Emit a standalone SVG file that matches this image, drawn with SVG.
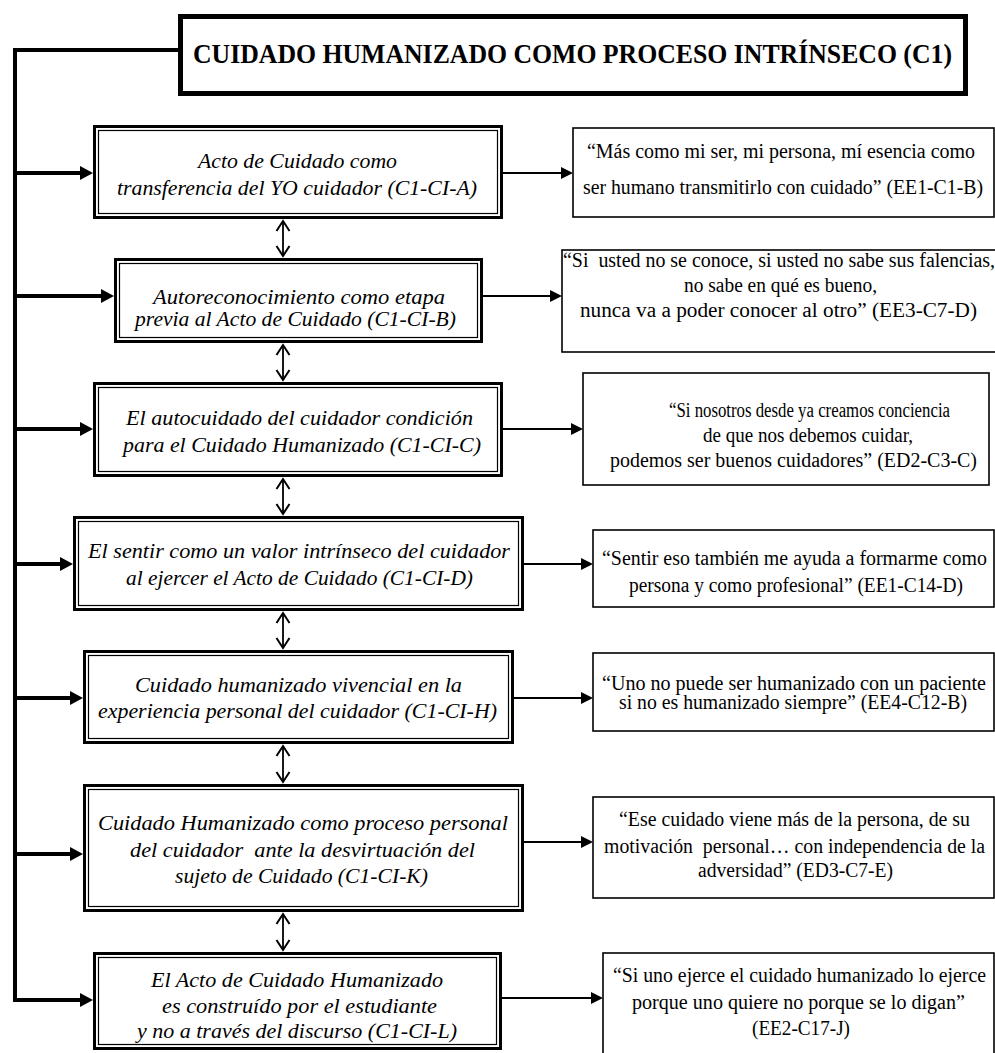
<svg xmlns="http://www.w3.org/2000/svg" width="995" height="1053" viewBox="0 0 995 1053">
<style>
.bg{fill:#fff}
text{font-family:'Liberation Serif','DejaVu Serif','Times New Roman',serif;fill:#000}
.title{font-weight:bold;font-size:27px}
.it{font-style:italic;font-size:20px}
.q{font-size:20px}
.outer{fill:#fff;stroke:#000;stroke-width:3}
.inner{fill:none;stroke:#000;stroke-width:1.2}
.qbox{fill:#fff;stroke:#000;stroke-width:1.6}
.tbox{fill:#fff;stroke:#000;stroke-width:5}
.trunk{fill:none;stroke:#000;stroke-width:4}
.thin{fill:none;stroke:#000;stroke-width:2.2}
.dbl{fill:none;stroke:#000;stroke-width:1.8}
</style>
<defs>
<marker id="ah" markerUnits="userSpaceOnUse" markerWidth="14" markerHeight="14" refX="1" refY="7" orient="auto"><path d="M0,0 L13,7 L0,14 z" fill="#000"/></marker>
<marker id="ahs" markerUnits="userSpaceOnUse" markerWidth="13" markerHeight="12" refX="1" refY="6" orient="auto"><path d="M0,0 L12,6 L0,12 z" fill="#000"/></marker>
<marker id="chev" markerUnits="userSpaceOnUse" markerWidth="12" markerHeight="14" refX="10" refY="7" orient="auto-start-reverse" overflow="visible"><path d="M0,0.5 L10,7 L0,13.5" fill="none" stroke="#000" stroke-width="2"/></marker>
</defs>
<rect class="bg" x="0" y="0" width="995" height="1053"/>

<g id="connectors">
<path class="trunk" d="M180,50 H15 V1000 H81" marker-end="url(#ah)"/>
<line class="trunk" x1="15" y1="173" x2="81" y2="173" marker-end="url(#ah)"/>
<line class="trunk" x1="15" y1="296" x2="102" y2="296" marker-end="url(#ah)"/>
<line class="trunk" x1="15" y1="429" x2="81" y2="429" marker-end="url(#ah)"/>
<line class="trunk" x1="15" y1="564" x2="61" y2="564" marker-end="url(#ah)"/>
<line class="trunk" x1="15" y1="698" x2="71" y2="698" marker-end="url(#ah)"/>
<line class="trunk" x1="15" y1="854" x2="71" y2="854" marker-end="url(#ah)"/>
<line class="thin" x1="503" y1="173" x2="562" y2="173" marker-end="url(#ahs)"/>
<line class="thin" x1="483" y1="296" x2="551" y2="296" marker-end="url(#ahs)"/>
<line class="thin" x1="503" y1="429" x2="572" y2="429" marker-end="url(#ahs)"/>
<line class="thin" x1="524" y1="564" x2="582" y2="564" marker-end="url(#ahs)"/>
<line class="thin" x1="514" y1="698" x2="582" y2="698" marker-end="url(#ahs)"/>
<line class="thin" x1="524" y1="842" x2="582" y2="842" marker-end="url(#ahs)"/>
<line class="thin" x1="502" y1="998" x2="592" y2="998" marker-end="url(#ahs)"/>
<line class="dbl" x1="283" y1="221" x2="283" y2="256" marker-start="url(#chev)" marker-end="url(#chev)"/>
<line class="dbl" x1="283" y1="345" x2="283" y2="380" marker-start="url(#chev)" marker-end="url(#chev)"/>
<line class="dbl" x1="283" y1="479" x2="283" y2="514" marker-start="url(#chev)" marker-end="url(#chev)"/>
<line class="dbl" x1="283" y1="613" x2="283" y2="648" marker-start="url(#chev)" marker-end="url(#chev)"/>
<line class="dbl" x1="283" y1="746" x2="283" y2="782" marker-start="url(#chev)" marker-end="url(#chev)"/>
<line class="dbl" x1="283" y1="914" x2="283" y2="950" marker-start="url(#chev)" marker-end="url(#chev)"/>
</g>

<g id="title">
<rect class="tbox" x="180.5" y="16.5" width="785" height="77"/>
<text class="title" x="193" y="63" textLength="759" lengthAdjust="spacingAndGlyphs">CUIDADO HUMANIZADO COMO PROCESO INTRÍNSECO (C1)</text>
</g>

<g id="n1">
<rect class="outer" x="94.5" y="126.5" width="407" height="91"/>
<rect class="inner" x="98.5" y="130.5" width="399" height="83"/>
<text class="it" x="198" y="168" textLength="199" lengthAdjust="spacingAndGlyphs">Acto de Cuidado como</text>
<text class="it" x="117" y="195" textLength="360" lengthAdjust="spacingAndGlyphs">transferencia del YO cuidador (C1-CI-A)</text>
</g>
<g id="q1">
<rect class="qbox" x="573" y="128" width="421" height="89"/>
<text class="q" x="587" y="158" textLength="388" lengthAdjust="spacingAndGlyphs">“Más como mi ser, mi persona, mí esencia como</text>
<text class="q" x="583" y="194" textLength="400" lengthAdjust="spacingAndGlyphs">ser humano transmitirlo con cuidado” (EE1-C1-B)</text>
</g>

<g id="n2">
<rect class="outer" x="115.5" y="259.5" width="366" height="82"/>
<rect class="inner" x="119.5" y="263.5" width="358" height="74"/>
<text class="it" x="153" y="304" textLength="292" lengthAdjust="spacingAndGlyphs">Autoreconocimiento como etapa</text>
<text class="it" x="135" y="326" textLength="321" lengthAdjust="spacingAndGlyphs">previa al Acto de Cuidado (C1-CI-B)</text>
</g>
<g id="q2">
<rect class="qbox" x="562" y="250" width="440" height="102"/>
<text class="q" x="563" y="267" textLength="432" lengthAdjust="spacingAndGlyphs" xml:space="preserve">“Si  usted no se conoce, si usted no sabe sus falencias,</text>
<text class="q" x="684" y="292" textLength="193" lengthAdjust="spacingAndGlyphs">no sabe en qué es bueno,</text>
<text class="q" x="580" y="317" textLength="397" lengthAdjust="spacingAndGlyphs">nunca va a poder conocer al otro” (EE3-C7-D)</text>
</g>

<g id="n3">
<rect class="outer" x="94.5" y="383.5" width="407" height="92"/>
<rect class="inner" x="98.5" y="387.5" width="399" height="84"/>
<text class="it" x="126" y="425" textLength="347" lengthAdjust="spacingAndGlyphs">El autocuidado del cuidador condición</text>
<text class="it" x="123" y="452" textLength="358" lengthAdjust="spacingAndGlyphs">para el Cuidado Humanizado (C1-CI-C)</text>
</g>
<g id="q3">
<rect class="qbox" x="583" y="373" width="406" height="112"/>
<text class="q" x="669" y="417" textLength="281" lengthAdjust="spacingAndGlyphs">“Si nosotros desde ya creamos conciencia</text>
<text class="q" x="703" y="442" textLength="210" lengthAdjust="spacingAndGlyphs">de que nos debemos cuidar,</text>
<text class="q" x="610" y="467" textLength="367" lengthAdjust="spacingAndGlyphs">podemos ser buenos cuidadores” (ED2-C3-C)</text>
</g>

<g id="n4">
<rect class="outer" x="74.5" y="517.5" width="448" height="92"/>
<rect class="inner" x="78.5" y="521.5" width="440" height="84"/>
<text class="it" x="88" y="558" textLength="422" lengthAdjust="spacingAndGlyphs">El sentir como un valor intrínseco del cuidador</text>
<text class="it" x="126" y="585" textLength="347" lengthAdjust="spacingAndGlyphs">al ejercer el Acto de Cuidado (C1-CI-D)</text>
</g>
<g id="q4">
<rect class="qbox" x="593" y="530" width="401" height="77"/>
<text class="q" x="602" y="565" textLength="385" lengthAdjust="spacingAndGlyphs">“Sentir eso también me ayuda a formarme como</text>
<text class="q" x="629" y="592" textLength="334" lengthAdjust="spacingAndGlyphs">persona y como profesional” (EE1-C14-D)</text>
</g>

<g id="n5">
<rect class="outer" x="84.5" y="651.5" width="428" height="91"/>
<rect class="inner" x="88.5" y="655.5" width="420" height="83"/>
<text class="it" x="135" y="692" textLength="327" lengthAdjust="spacingAndGlyphs">Cuidado humanizado vivencial en la</text>
<text class="it" x="98" y="718" textLength="399" lengthAdjust="spacingAndGlyphs">experiencia personal del cuidador (C1-CI-H)</text>
</g>
<g id="q5">
<rect class="qbox" x="593" y="653" width="401" height="78"/>
<text class="q" x="602" y="690" textLength="384" lengthAdjust="spacingAndGlyphs">“Uno no puede ser humanizado con un paciente</text>
<text class="q" x="619" y="709" textLength="348" lengthAdjust="spacingAndGlyphs">si no es humanizado siempre” (EE4-C12-B)</text>
</g>

<g id="n6">
<rect class="outer" x="84.5" y="785.5" width="438" height="125"/>
<rect class="inner" x="88.5" y="789.5" width="430" height="117"/>
<text class="it" x="98" y="830" textLength="410" lengthAdjust="spacingAndGlyphs">Cuidado Humanizado como proceso personal</text>
<text class="it" x="130" y="857" textLength="345" lengthAdjust="spacingAndGlyphs" xml:space="preserve">del cuidador  ante la desvirtuación del</text>
<text class="it" x="175" y="883" textLength="253" lengthAdjust="spacingAndGlyphs">sujeto de Cuidado (C1-CI-K)</text>
</g>
<g id="q6">
<rect class="qbox" x="593" y="797" width="401" height="101"/>
<text class="q" x="619" y="826" textLength="351" lengthAdjust="spacingAndGlyphs">“Ese cuidado viene más de la persona, de su</text>
<text class="q" x="604" y="853" textLength="381" lengthAdjust="spacingAndGlyphs" xml:space="preserve">motivación  personal… con independencia de la</text>
<text class="q" x="698" y="877" textLength="195" lengthAdjust="spacingAndGlyphs">adversidad” (ED3-C7-E)</text>
</g>

<g id="n7">
<rect class="outer" x="94.5" y="953.5" width="406" height="95"/>
<rect class="inner" x="98.5" y="957.5" width="398" height="87"/>
<text class="it" x="151" y="987" textLength="292" lengthAdjust="spacingAndGlyphs">El Acto de Cuidado Humanizado</text>
<text class="it" x="162" y="1013" textLength="275" lengthAdjust="spacingAndGlyphs">es construído por el estudiante</text>
<text class="it" x="137" y="1038" textLength="320" lengthAdjust="spacingAndGlyphs">y no a través del discurso (C1-CI-L)</text>
</g>
<g id="q7">
<rect class="qbox" x="603" y="953" width="391" height="110"/>
<text class="q" x="613" y="982" textLength="373" lengthAdjust="spacingAndGlyphs">“Si uno ejerce el cuidado humanizado lo ejerce</text>
<text class="q" x="632" y="1009" textLength="333" lengthAdjust="spacingAndGlyphs">porque uno quiere no porque se lo digan”</text>
<text class="q" x="752" y="1035" textLength="98" lengthAdjust="spacingAndGlyphs">(EE2-C17-J)</text>
</g>
</svg>
